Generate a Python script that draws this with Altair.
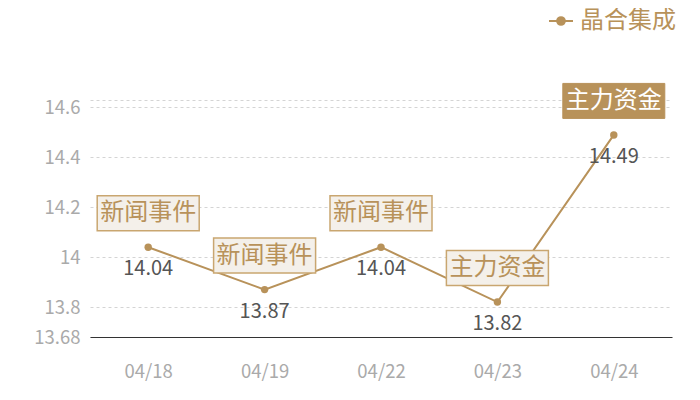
import altair as alt
import pandas as pd

dates = ["04/18", "04/19", "04/22", "04/23", "04/24"]
values = [14.04, 13.87, 14.04, 13.82, 14.49]
events = ["新闻事件", "新闻事件", "新闻事件", "主力资金", "主力资金"]
highlight = [0, 0, 0, 0, 1]
series = "晶合集成"

y_ticks = [13.68, 13.8, 14.0, 14.2, 14.4, 14.6, 14.63]
y_domain = [13.68, 14.63]

TAN = "#b8925a"
BOX_FILL = "#f4f0ea"
BOX_STROKE = "#c9a670"
FONT = "Noto Sans CJK SC"

df = pd.DataFrame({"date": dates, "value": values, "event": events,
                   "hl": highlight, "series": [series] * len(dates)})

x = alt.X("date:O", sort=dates, title=None,
          scale=alt.Scale(padding=0.5),
          axis=alt.Axis(labelAngle=0, labelColor="#aaaaaa", labelFontSize=18.5,
                        labelFont=FONT, ticks=False, labelPadding=25,
                        domainColor="#333333", domainWidth=1.2, grid=False))
y = alt.Y("value:Q", title=None,
          scale=alt.Scale(domain=y_domain, nice=False, zero=False),
          axis=alt.Axis(values=y_ticks, labelColor="#aaaaaa", labelFontSize=18.5,
                        labelFont=FONT, ticks=False, domain=False, labelPadding=10,
                        labelExpr="datum.value > 14.62 ? '' : format(datum.value, '~g')",
                        gridColor="#d4d4d4", gridDash=[3, 3], gridWidth=1))

base = alt.Chart(df).encode(x=x, y=y)

line = base.mark_line(color=TAN, strokeWidth=2)

legend_path = "M-1.3,0L1.3,0M0.42,0A0.42,0.42,0,1,1,-0.42,0A0.42,0.42,0,1,1,0.42,0Z"
points = base.mark_point(filled=True, size=55, opacity=1).encode(
    color=alt.Color("series:N", title=None,
                    scale=alt.Scale(range=[TAN]),
                    legend=alt.Legend(orient="none", legendX=459, legendY=-91,
                                      symbolType=legend_path, symbolSize=340,
                                      symbolFillColor=TAN, symbolStrokeColor=TAN,
                                      symbolStrokeWidth=2, labelFontSize=24,
                                      labelFont=FONT, labelColor=TAN,
                                      labelOffset=7, padding=0, labelLimit=200))
)

value_text = base.mark_text(dy=22, fontSize=20, font=FONT, color="#555555",
                            baseline="middle").encode(text=alt.Text("value:Q", format=".2f"))

box_path = "M-1,-1.01L1,-1.01L1,-0.324L-1,-0.324Z"
boxes = base.mark_point(shape=box_path, size=10404, filled=False, fill=BOX_FILL,
                        stroke=BOX_STROKE, strokeWidth=1.5, opacity=1,
                        fillOpacity=1).transform_filter("datum.hl == 0")
boxes_hl = base.mark_point(shape=box_path, size=10404, filled=True, fill=TAN,
                           stroke=TAN, strokeWidth=1, opacity=1,
                           fillOpacity=1).transform_filter("datum.hl == 1")

ev_text = base.mark_text(dy=-34, fontSize=24, font=FONT, color=TAN,
                         baseline="middle").encode(text="event:N").transform_filter("datum.hl == 0")
ev_text_hl = base.mark_text(dy=-34, fontSize=24, font=FONT, color="#ffffff",
                            baseline="middle").encode(text="event:N").transform_filter("datum.hl == 1")

chart = alt.layer(line, points, value_text, boxes, boxes_hl, ev_text, ev_text_hl).properties(
    width=582, height=237,
    autosize=alt.AutoSizeParams(type="none"),
    padding={"left": 82, "top": 92, "right": 20, "bottom": 55},
    background="#ffffff"
).configure_view(stroke=None)

chart.save("out.html", embed_options={"renderer": "svg", "actions": False})
